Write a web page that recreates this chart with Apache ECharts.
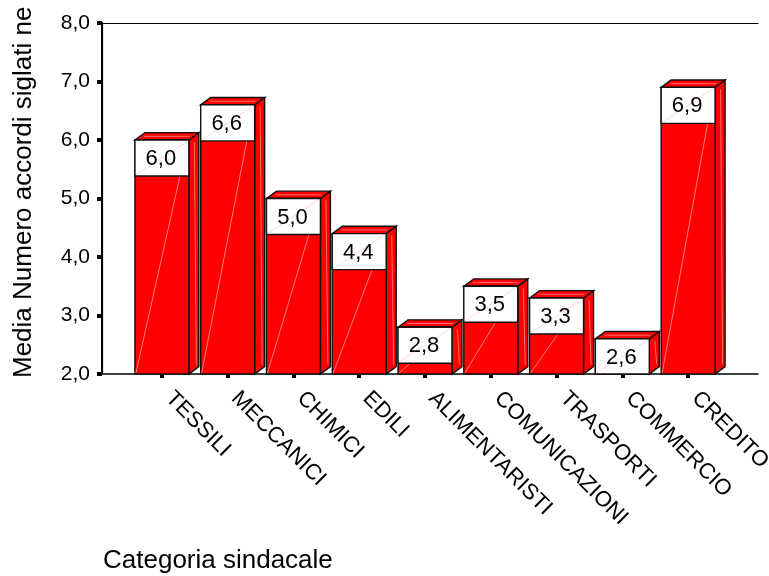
<!DOCTYPE html>
<html>
<head>
<meta charset="utf-8">
<title>Media Numero accordi siglati per categoria sindacale</title>
<script src="https://cdn.jsdelivr.net/npm/echarts@6/dist/echarts.min.js"></script>
<style>
  html, body { margin: 0; padding: 0; background: #ffffff; }
  #chart { width: 769px; height: 576px; }
</style>
</head>
<body>
<div id="chart"></div>
<script>
// Categories and mean number of agreements signed
const categories = ['TESSILI', 'MECCANICI', 'CHIMICI', 'EDILI', 'ALIMENTARISTI',
                    'COMUNICAZIONI', 'TRASPORTI', 'COMMERCIO', 'CREDITO'];
const meanAgreements = [6.0, 6.6, 5.0, 4.4, 2.8, 3.5, 3.3, 2.6, 6.9];
const yAxisMin = 2;
const yAxisMax = 8;
const yAxisStep = 1;
const yTitle = 'Media Numero accordi siglati ne';
const xTitle = 'Categoria sindacale';

const FONT = "'Liberation Sans', Arial, Helvetica, sans-serif";
const RED = '#ff0000';
const EDGE = '#111111';
const SHINE = 'rgba(255, 190, 190, 0.95)';

const fmt = v => v.toFixed(1).replace('.', ',');

const chart = echarts.init(document.getElementById('chart'), null, { renderer: 'canvas' });

// Draws one 3D bar: front face, top face, side face and the value box
function renderBar(params, api) {
  const idx = api.value(0);
  const val = api.value(1);
  const top = api.coord([idx, val]);
  const base = api.coord([idx, yAxisMin]);
  const band = api.size([1, 0])[0];
  const w = band * 0.82;
  const dx = band * 0.152;
  const dy = band * 0.112;
  const x0 = top[0] - w / 2;
  const x1 = top[0] + w / 2;
  const yT = top[1];
  const yB = base[1];
  const boxH = Math.min(36, yB - yT);
  const lw = 1.4;

  return {
    type: 'group',
    children: [
      { // side face
        type: 'polygon',
        shape: { points: [[x1, yT], [x1 + dx, yT - dy], [x1 + dx, yB - dy], [x1, yB]] },
        style: { fill: RED, stroke: EDGE, lineWidth: lw }
      },
      { // faint highlight on the side face
        type: 'line',
        shape: { x1: x1 + dx * 0.55, y1: yT - dy * 0.55 + 6, x2: x1 + dx * 0.75, y2: yB - dy * 0.75 - 4 },
        style: { stroke: SHINE, lineWidth: 0.6 }
      },
      { // top face
        type: 'polygon',
        shape: { points: [[x0, yT], [x0 + dx, yT - dy], [x1 + dx, yT - dy], [x1, yT]] },
        style: { fill: RED, stroke: EDGE, lineWidth: lw }
      },
      { // faint highlight on the top face
        type: 'line',
        shape: { x1: x0 + dx * 0.5 + 4, y1: yT - dy * 0.5, x2: x1 + dx * 0.5 - 4, y2: yT - dy * 0.5 },
        style: { stroke: SHINE, lineWidth: 0.6 }
      },
      { // front face
        type: 'rect',
        shape: { x: x0, y: yT, width: w, height: yB - yT },
        style: { fill: RED, stroke: EDGE, lineWidth: lw }
      },
      { // diagonal sheen across the front face
        type: 'line',
        shape: { x1: x0 + 1, y1: yB - 1, x2: x1 - 1, y2: yT + 1 },
        style: { stroke: SHINE, lineWidth: 0.7 }
      },
      { // value box
        type: 'rect',
        shape: { x: x0, y: yT, width: w, height: boxH },
        style: { fill: '#ffffff', stroke: EDGE, lineWidth: lw }
      },
      { // diagonal sheen across the value box
        type: 'line',
        shape: { x1: x0 + 1, y1: yT + boxH - 1, x2: x1 - 1, y2: yT + 1 },
        style: { stroke: 'rgba(255, 170, 170, 0.8)', lineWidth: 0.6 }
      },
      { // value text
        type: 'text',
        style: {
          x: top[0] - 1,
          y: yT + boxH / 2 + 1,
          text: fmt(val),
          fill: '#000000',
          font: '22px ' + FONT,
          align: 'center',
          verticalAlign: 'middle'
        }
      }
    ]
  };
}

const option = {
  backgroundColor: '#ffffff',
  animation: false,
  textStyle: { fontFamily: FONT },
  grid: [
    // frame grid: carries the value axis and the box outline
    { left: 102, top: 23, width: 656, height: 351, containLabel: false, outerBoundsMode: 'none' },
    // bar grid: categories sit inside the frame, leaving room for the bar depth
    { left: 129, top: 23, width: 592, height: 351, containLabel: false, outerBoundsMode: 'none' }
  ],
  xAxis: [
    {
      gridIndex: 0, type: 'value', min: 0, max: 1, position: 'bottom',
      axisLine: { show: true, lineStyle: { color: '#000', width: 1.5 } },
      axisTick: { show: false }, axisLabel: { show: false }, splitLine: { show: false }
    },
    {
      gridIndex: 0, type: 'value', min: 0, max: 1, position: 'top',
      axisLine: { show: true, lineStyle: { color: '#000', width: 1.2 } },
      axisTick: { show: false }, axisLabel: { show: false }, splitLine: { show: false }
    },
    {
      gridIndex: 1, type: 'category', data: categories, position: 'bottom',
      axisLine: { show: false },
      axisTick: { show: true, alignWithLabel: true, length: 4, lineStyle: { color: '#000', width: 4 } },
      axisLabel: {
        interval: 0, rotate: -45, margin: 14, padding: [0, 0, 0, 10],
        fontSize: 22, color: '#000', fontFamily: FONT
      },
      splitLine: { show: false }
    }
  ],
  yAxis: [
    {
      gridIndex: 0, type: 'value', min: yAxisMin, max: yAxisMax, interval: yAxisStep,
      axisLine: { show: true, lineStyle: { color: '#000', width: 2 } },
      axisTick: { show: true, inside: false, length: 5, lineStyle: { color: '#000', width: 4 } },
      axisLabel: { formatter: v => fmt(v), fontSize: 21, color: '#000', margin: 12, fontFamily: FONT },
      splitLine: { show: false }
    },
    {
      gridIndex: 0, type: 'value', min: yAxisMin, max: yAxisMax, position: 'right',
      axisLine: { show: true, lineStyle: { color: '#000', width: 1.2 } },
      axisTick: { show: false }, axisLabel: { show: false }, splitLine: { show: false }
    },
    {
      gridIndex: 1, type: 'value', min: yAxisMin, max: yAxisMax, interval: yAxisStep, show: false
    }
  ],
  series: [
    {
      type: 'custom',
      name: yTitle,
      xAxisIndex: 2,
      yAxisIndex: 2,
      renderItem: renderBar,
      encode: { x: 0, y: 1 },
      data: meanAgreements.map((v, i) => [i, v]),
      clip: false
    }
  ],
  graphic: [
    {
      type: 'text',
      x: 37, y: 378,
      rotation: Math.PI / 2,
      style: {
        text: yTitle, fill: '#000', font: '26px ' + FONT,
        align: 'left', verticalAlign: 'bottom'
      }
    },
    {
      type: 'text',
      x: 103, y: 574,
      style: {
        text: xTitle, fill: '#000', font: '26px ' + FONT,
        align: 'left', verticalAlign: 'bottom'
      }
    }
  ]
};

chart.setOption(option);
</script>
</body>
</html>
